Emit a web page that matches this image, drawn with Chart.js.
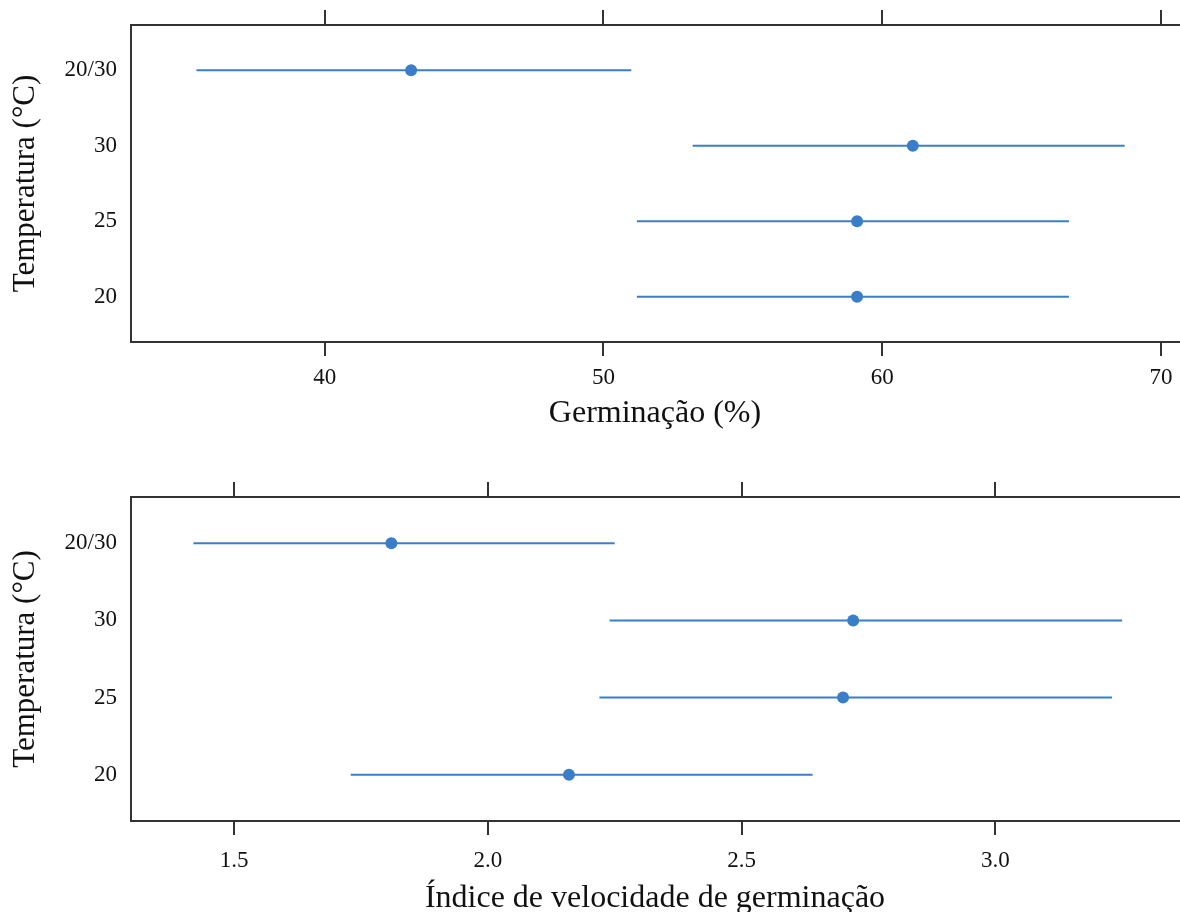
<!DOCTYPE html>
<html>
<head>
<meta charset="utf-8">
<script src="https://cdn.jsdelivr.net/npm/chart.js@4/dist/chart.umd.min.js"></script>
<style>
  html, body { margin:0; padding:0; background:#fff; overflow:hidden; width:1180px; height:912px; }
  .panel { position:absolute; left:0; width:1185px; }
</style>
</head>
<body>
<div class="panel" style="top:0;height:456px"><canvas id="c1" width="1185" height="456"></canvas></div>
<div class="panel" style="top:456px;height:470px"><canvas id="c2" width="1185" height="470"></canvas></div>
<script>
// Categories listed bottom to top
const categories = ['20', '25', '30', '20/30'];

// Germinação (%)
const germEst = [59.1, 59.1, 61.1, 43.1];
const germLo  = [51.2, 51.2, 53.2, 35.4];
const germHi  = [66.7, 66.7, 68.7, 51.0];
const germTicks = [40, 50, 60, 70];

// Índice de velocidade de germinação
const ivgEst = [2.16, 2.70, 2.72, 1.81];
const ivgLo  = [1.73, 2.22, 2.24, 1.42];
const ivgHi  = [2.64, 3.23, 3.25, 2.25];
const ivgTicks = [1.5, 2.0, 2.5, 3.0];

const BLUE = '#3a7ec8';
const AXIS = '#333333';
const FONT = '"Liberation Serif", "Times New Roman", serif';

function noPad(s) { s.paddingLeft = 0; s.paddingRight = 0; s.paddingTop = 0; s.paddingBottom = 0; }

function makeChart(id, est, lo, hi, ticks, xmin, xmax, xTitle, cfg) {
  const datasets = categories.map((c, i) => ({
    data: [{x: lo[i], y: i + 1}, {x: hi[i], y: i + 1}],
    showLine: true, borderColor: BLUE, borderWidth: 2, pointRadius: 0, fill: false
  }));
  datasets.push({
    data: categories.map((c, i) => ({x: est[i], y: i + 1})),
    showLine: false, pointRadius: 6, pointHoverRadius: 6,
    backgroundColor: BLUE, borderColor: BLUE, borderWidth: 0
  });
  return new Chart(document.getElementById(id), {
    type: 'scatter',
    data: { datasets },
    options: {
      responsive: false, animation: false, events: [],
      layout: { padding: 0 },
      plugins: { legend: { display: false }, tooltip: { enabled: false } },
      scales: {
        x: {
          type: 'linear', position: 'bottom', min: xmin, max: xmax,
          afterBuildTicks: s => { s.ticks = ticks.map(v => ({value: v})); },
          afterFit: s => { s.height = cfg.bottomH; noPad(s); },
          ticks: {
            color: '#111', padding: cfg.tickPad, maxRotation: 0, autoSkip: false,
            font: { family: FONT, size: 23 },
            callback: v => cfg.fmt(v)
          },
          grid: { display: true, drawOnChartArea: false, drawTicks: true, tickLength: 14, color: AXIS, lineWidth: 2 },
          border: { display: true, color: AXIS, width: 2 },
          title: { display: true, text: xTitle, color: '#111',
                   font: { family: FONT, size: 32 }, padding: { top: 0, bottom: cfg.titlePad } }
        },
        x2: {
          type: 'linear', position: 'top', min: xmin, max: xmax,
          afterBuildTicks: s => { s.ticks = ticks.map(v => ({value: v})); },
          afterFit: s => { s.height = cfg.topH; noPad(s); },
          ticks: { display: false },
          grid: { display: true, drawOnChartArea: false, drawTicks: true, tickLength: 15, color: AXIS, lineWidth: 2 },
          border: { display: true, color: AXIS, width: 2 }
        },
        y: {
          type: 'linear', position: 'left', min: 0.4, max: 4.6,
          afterBuildTicks: s => { s.ticks = categories.map((c, i) => ({value: i + 1})); },
          afterFit: s => { s.width = 131; noPad(s); },
          ticks: {
            color: '#111', padding: 14, font: { family: FONT, size: 23 },
            callback: v => categories[Math.round(v) - 1]
          },
          grid: { display: true, drawOnChartArea: false, drawTicks: false, color: AXIS },
          border: { display: true, color: AXIS, width: 2 },
          title: { display: true, text: 'Temperatura (°C)', color: '#111',
                   font: { family: FONT, size: 31 }, padding: { top: 7, bottom: 0 } }
        }
      }
    }
  });
}

makeChart('c1', germEst, germLo, germHi, germTicks, 33.05, 70.65, 'Germinação (%)',
  { topH: 25, bottomH: 114, tickPad: 8, titlePad: 23, fmt: v => String(v) });
makeChart('c2', ivgEst, ivgLo, ivgHi, ivgTicks, 1.297, 3.362, 'Índice de velocidade de germinação',
  { topH: 41, bottomH: 105, tickPad: 12, titlePad: 8, fmt: v => Number(v).toFixed(1) });
</script>
</body>
</html>
